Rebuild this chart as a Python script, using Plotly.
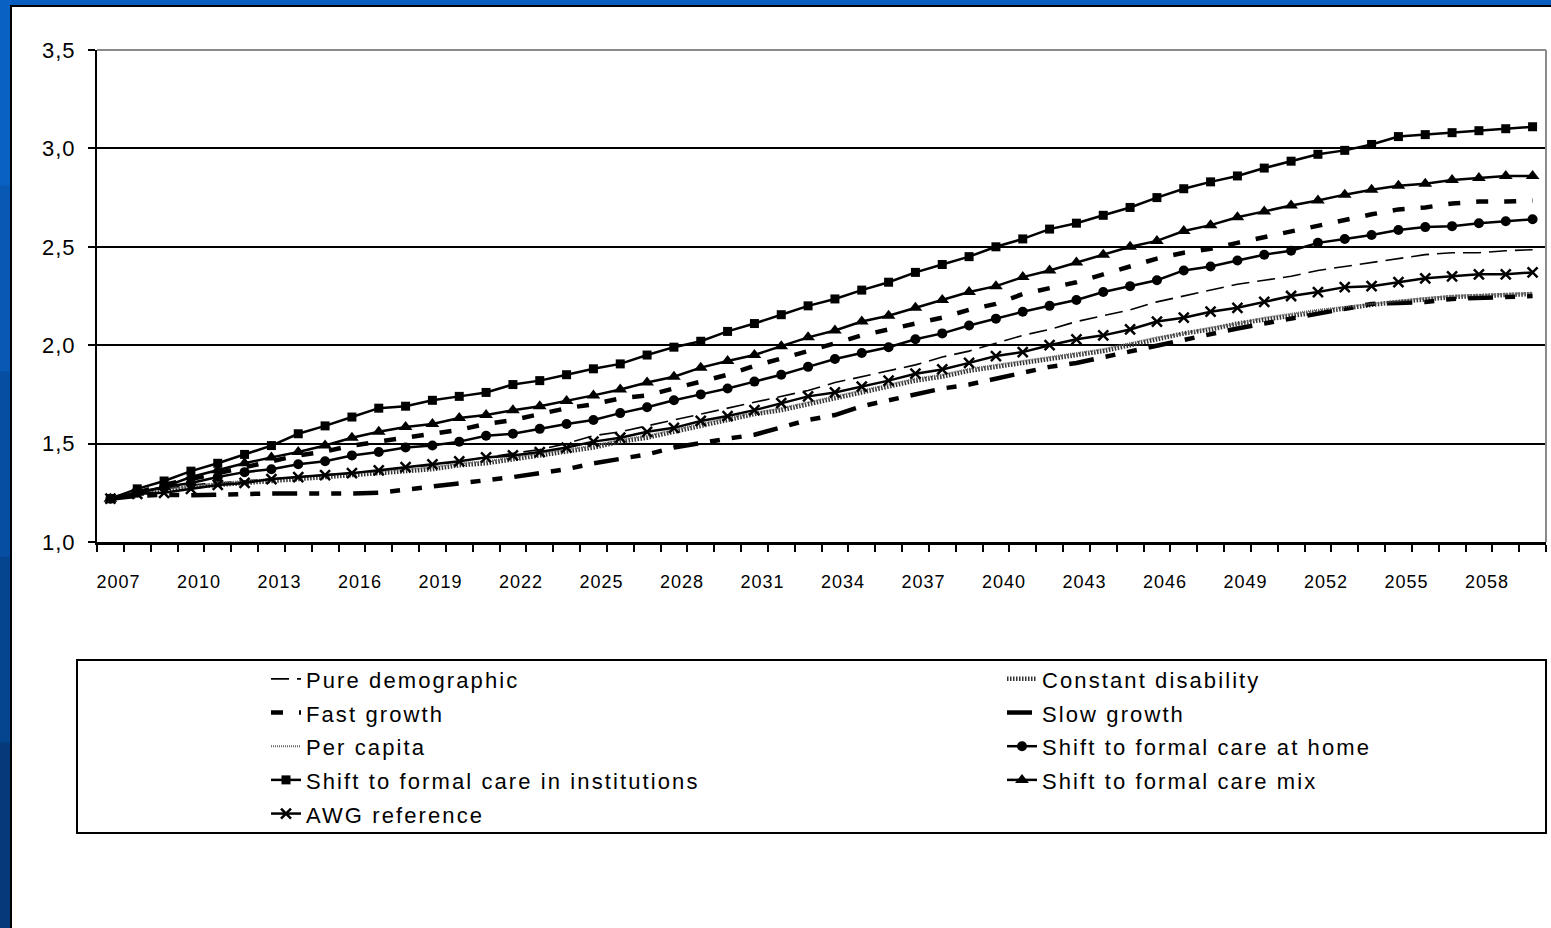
import plotly.graph_objects as go

# ---------------- data ----------------
years = list(range(2007, 2061))
x_tick_years = [2007, 2010, 2013, 2016, 2019, 2022, 2025, 2028, 2031, 2034,
                2037, 2040, 2043, 2046, 2049, 2052, 2055, 2058]
x_tick_labels = [str(v) for v in x_tick_years]
y_ticks = [1.0, 1.5, 2.0, 2.5, 3.0, 3.5]
y_tick_labels = ["1,0", "1,5", "2,0", "2,5", "3,0", "3,5"]

pure_demographic = [1.22, 1.25, 1.27, 1.29, 1.30, 1.31, 1.32, 1.33, 1.34, 1.35,
                    1.36, 1.38, 1.39, 1.41, 1.43, 1.45, 1.47, 1.50, 1.54, 1.56,
                    1.59, 1.62, 1.65, 1.68, 1.71, 1.74, 1.77, 1.81, 1.84, 1.87,
                    1.90, 1.94, 1.97, 2.01, 2.05, 2.08, 2.12, 2.15, 2.18, 2.22,
                    2.25, 2.28, 2.31, 2.33, 2.35, 2.38, 2.40, 2.42, 2.44, 2.46,
                    2.47, 2.47, 2.48, 2.485]
constant_disability = [1.22, 1.25, 1.26, 1.28, 1.29, 1.30, 1.31, 1.32, 1.33, 1.34,
                       1.35, 1.36, 1.37, 1.39, 1.40, 1.42, 1.44, 1.46, 1.48, 1.51,
                       1.53, 1.56, 1.59, 1.62, 1.65, 1.67, 1.70, 1.73, 1.76, 1.79,
                       1.82, 1.84, 1.87, 1.89, 1.91, 1.93, 1.95, 1.97, 2.00, 2.03,
                       2.06, 2.08, 2.11, 2.13, 2.15, 2.17, 2.19, 2.205, 2.22, 2.235,
                       2.245, 2.25, 2.255, 2.26]
fast_growth = [1.22, 1.25, 1.29, 1.32, 1.35, 1.38, 1.41, 1.44, 1.46, 1.49,
               1.51, 1.53, 1.55, 1.57, 1.60, 1.62, 1.65, 1.68, 1.70, 1.73,
               1.745, 1.78, 1.81, 1.85, 1.895, 1.93, 1.97, 2.01, 2.05, 2.08,
               2.11, 2.14, 2.18, 2.21, 2.26, 2.29, 2.32, 2.36, 2.40, 2.44,
               2.47, 2.49, 2.52, 2.55, 2.58, 2.61, 2.64, 2.665, 2.69, 2.70,
               2.72, 2.73, 2.73, 2.735]
slow_growth = [1.22, 1.235, 1.24, 1.237, 1.24, 1.246, 1.247, 1.247, 1.245, 1.246,
               1.25, 1.265, 1.28, 1.30, 1.31, 1.33, 1.35, 1.37, 1.40, 1.42,
               1.445, 1.48, 1.505, 1.525, 1.545, 1.58, 1.62, 1.645, 1.69, 1.72,
               1.75, 1.78, 1.80, 1.83, 1.86, 1.89, 1.91, 1.94, 1.97, 2.00,
               2.03, 2.06, 2.085, 2.11, 2.135, 2.16, 2.19, 2.21, 2.215, 2.22,
               2.235, 2.24, 2.245, 2.25]
per_capita = [1.22, 1.25, 1.27, 1.28, 1.30, 1.31, 1.32, 1.33, 1.34, 1.35,
              1.36, 1.37, 1.38, 1.40, 1.41, 1.43, 1.45, 1.47, 1.49, 1.52,
              1.54, 1.57, 1.60, 1.63, 1.655, 1.68, 1.71, 1.74, 1.77, 1.80,
              1.83, 1.85, 1.88, 1.90, 1.92, 1.94, 1.96, 1.98, 2.01, 2.04,
              2.06, 2.09, 2.11, 2.14, 2.16, 2.18, 2.195, 2.21, 2.225, 2.24,
              2.25, 2.255, 2.26, 2.265]
formal_home = [1.22, 1.25, 1.28, 1.30, 1.33, 1.355, 1.37, 1.395, 1.41, 1.44,
               1.457, 1.48, 1.49, 1.51, 1.54, 1.55, 1.575, 1.60, 1.62, 1.655,
               1.685, 1.72, 1.75, 1.78, 1.815, 1.85, 1.89, 1.93, 1.96, 1.99,
               2.03, 2.06, 2.10, 2.135, 2.17, 2.20, 2.23, 2.27, 2.30, 2.33,
               2.38, 2.40, 2.43, 2.46, 2.48, 2.52, 2.54, 2.56, 2.585, 2.60,
               2.605, 2.62, 2.63, 2.64]
formal_institutions = [1.22, 1.27, 1.31, 1.36, 1.40, 1.445, 1.49, 1.55, 1.59, 1.635,
                       1.68, 1.69, 1.72, 1.74, 1.76, 1.80, 1.82, 1.85, 1.88, 1.905,
                       1.95, 1.99, 2.02, 2.07, 2.11, 2.155, 2.20, 2.235, 2.28, 2.32,
                       2.37, 2.41, 2.45, 2.50, 2.54, 2.59, 2.62, 2.66, 2.70, 2.75,
                       2.795, 2.83, 2.86, 2.90, 2.935, 2.97, 2.99, 3.02, 3.06, 3.07,
                       3.08, 3.09, 3.10, 3.11]
formal_mix = [1.22, 1.25, 1.28, 1.33, 1.364, 1.40, 1.43, 1.457, 1.49, 1.53,
              1.56, 1.584, 1.60, 1.63, 1.645, 1.67, 1.69, 1.716, 1.745, 1.775,
              1.81, 1.84, 1.886, 1.92, 1.95, 1.995, 2.04, 2.075, 2.12, 2.15,
              2.19, 2.23, 2.27, 2.30, 2.346, 2.38, 2.42, 2.46, 2.50, 2.53,
              2.58, 2.61, 2.65, 2.68, 2.71, 2.735, 2.765, 2.79, 2.81, 2.82,
              2.84, 2.85, 2.86, 2.86]
awg_reference = [1.22, 1.245, 1.25, 1.27, 1.29, 1.30, 1.32, 1.33, 1.34, 1.35,
                 1.364, 1.38, 1.395, 1.41, 1.43, 1.44, 1.457, 1.48, 1.51, 1.53,
                 1.56, 1.58, 1.615, 1.64, 1.67, 1.706, 1.74, 1.76, 1.79, 1.82,
                 1.855, 1.877, 1.91, 1.945, 1.965, 2.00, 2.03, 2.05, 2.08, 2.12,
                 2.14, 2.17, 2.19, 2.22, 2.25, 2.27, 2.295, 2.30, 2.32, 2.34,
                 2.35, 2.36, 2.36, 2.37]

# ---------------- geometry / style ----------------
W, H = 1551, 928
ML, MR, MT, MB = 97, 5, 50, 386
PW, PH = W - ML - MR, H - MT - MB
FONT = "Liberation Sans, Arial, Helvetica, sans-serif"
LABEL_SHIFT = 0.3  # x tick labels sit slightly right of category centres


def px_x(p):
    return (p - ML) / PW


def px_y(p):
    return (H - MB - p) / PH


def spaced(text, size, spacing):
    return f'<span style="font-size:{size}px;letter-spacing:{spacing}px">{text}</span>'


BLACK = "black"
series = [
    # name, values, line, marker, legend
    ("Pure demographic", pure_demographic,
     dict(color=BLACK, width=1.6, dash="18px,8px"), None, "legend"),
    ("Constant disability", constant_disability,
     dict(color="#333333", width=4.5, dash="1.5px,1.5px"), None, "legend2"),
    ("Fast growth", fast_growth,
     dict(color=BLACK, width=4.5, dash="12px,16px"), None, "legend"),
    ("Slow growth", slow_growth,
     dict(color=BLACK, width=4.5, dash="25px,12px,10px,12px,10px,12px"), None, "legend2"),
    ("Per capita", per_capita,
     dict(color="#666666", width=2, dash="1px,1px"), None, "legend"),
    ("Shift to formal care at home", formal_home,
     dict(color=BLACK, width=2.5), dict(symbol="circle", size=10, color=BLACK), "legend2"),
    ("Shift to formal care in institutions", formal_institutions,
     dict(color=BLACK, width=2.5), dict(symbol="square", size=9, color=BLACK), "legend"),
    ("Shift to formal care mix", formal_mix,
     dict(color=BLACK, width=2.5), dict(symbol="triangle-up", size=12, color=BLACK), "legend2"),
    ("AWG reference", awg_reference,
     dict(color=BLACK, width=2.5),
     dict(symbol="x-thin", size=10, color=BLACK, line=dict(width=2.5, color=BLACK)), "legend"),
]

fig = go.Figure()
for i, (name, vals, line, marker, leg) in enumerate(series):
    assert len(vals) == len(years), name
    fig.add_trace(go.Scatter(
        x=years, y=vals, name=spaced(name, 22, 2.1),
        mode="lines+markers" if marker else "lines",
        line=line, marker=marker, legend=leg, legendgroup=f"g{i}",
        hoverinfo="skip",
    ))

# ---------------- frame shapes ----------------
shapes = []
blues = ["#0a61c4", "#0858b4", "#064ea2", "#05448e", "#043a7a"]
seg = H / len(blues)
for k, c in enumerate(blues):
    shapes.append(dict(type="rect", xref="paper", yref="paper", layer="below",
                       x0=px_x(-5), x1=px_x(11), y0=px_y(seg * (k + 1) + 1), y1=px_y(seg * k),
                       fillcolor=c, line=dict(width=0)))
shapes.append(dict(type="rect", xref="paper", yref="paper", layer="below",
                   x0=px_x(11), x1=px_x(1600), y0=px_y(980), y1=px_y(6),
                   fillcolor="white", line=dict(color="black", width=2)))
# gray top / right plot border
shapes.append(dict(type="line", xref="paper", yref="paper", x0=0, x1=1, y0=1, y1=1,
                   line=dict(color="#8a8a8a", width=2)))
shapes.append(dict(type="line", xref="paper", yref="paper", x0=1, x1=1, y0=0, y1=1,
                   line=dict(color="#8a8a8a", width=2)))
# legend box
shapes.append(dict(type="rect", xref="paper", yref="paper",
                   x0=px_x(77), x1=px_x(1546), y0=px_y(833), y1=px_y(660),
                   line=dict(color="black", width=2), fillcolor="rgba(0,0,0,0)"))

legend_common = dict(
    orientation="v", xanchor="left", yanchor="top",
    font=dict(family=FONT, size=23.6, color="black"),
    bgcolor="rgba(0,0,0,0)", borderwidth=0, tracegroupgap=0,
    traceorder="normal", itemwidth=30,
)

fig.update_layout(
    width=W, height=H,
    margin=dict(l=ML, r=MR, t=MT, b=MB, autoexpand=False),
    paper_bgcolor="#0a5ec0",
    plot_bgcolor="white",
    font=dict(family=FONT, color="black"),
    showlegend=True,
    legend=dict(x=px_x(266), y=px_y(657), **legend_common),
    legend2=dict(x=px_x(1002), y=px_y(657), **legend_common),
    shapes=shapes,
    xaxis=dict(
        type="linear", range=[2006.5, 2060.5],
        tickmode="array", tickvals=[v + LABEL_SHIFT for v in x_tick_years],
        ticktext=[spaced(t, 18, 1) for t in x_tick_labels],
        ticks="outside", ticklen=0, tickcolor="black",
        ticklabelstandoff=21,
        tickfont=dict(family=FONT, size=18, color="black"),
        minor=dict(ticks="outside", tickmode="linear", tick0=2006.5, dtick=1,
                   ticklen=7, tickwidth=2, tickcolor="black", showgrid=False),
        showline=True, linecolor="black", linewidth=3,
        showgrid=False, zeroline=False, fixedrange=True,
    ),
    yaxis=dict(
        range=[1.0, 3.5], tickmode="array", tickvals=y_ticks,
        ticktext=[spaced(t, 22, 1) for t in y_tick_labels],
        ticks="outside", ticklen=7, tickwidth=2, tickcolor="black",
        ticklabelstandoff=8,
        tickfont=dict(family=FONT, size=22, color="black"),
        showline=True, linecolor="black", linewidth=2,
        showgrid=True, gridcolor="black", gridwidth=2,
        zeroline=False, fixedrange=True,
    ),
)

fig.write_html("out.html",
               config={"displayModeBar": False},
               post_script="document.body.style.margin='0';"
                           "document.body.style.overflow='hidden';")
